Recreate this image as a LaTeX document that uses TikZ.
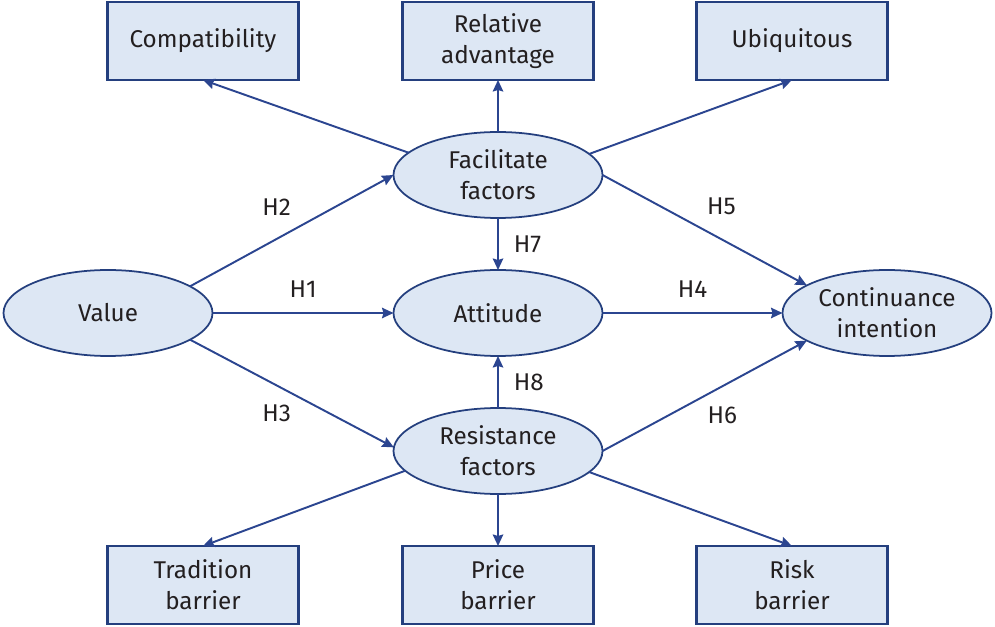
\documentclass[tikz,border=0pt]{standalone}
\usepackage{fontspec}
\setmainfont{Fira Sans}
\usetikzlibrary{arrows.meta,
positioning,
shapes.geometric}

\definecolor{boxfill}{HTML}{DDE7F4}
\definecolor{boxline}{HTML}{243F7E}
\definecolor{arrowline}{HTML}{2B4590}
\definecolor{txt}{HTML}{231F20}

\tikzset{
	factor/.style={ellipse, draw=boxline, fill=boxfill, line width=1pt, inner sep=0pt, outer sep=0pt,
		minimum width=4.18cm, minimum height=1.72cm, align=center, text=txt},
	item/.style={rectangle, draw=boxline, fill=boxfill, line width=1.4pt, inner sep=0pt, outer sep=0pt,
		minimum width=3.82cm, minimum height=1.56cm, align=center, text=txt},
	hyp/.style={inner sep=0pt, text=txt},
	every node/.append style={font=\fontsize{13.8}{17.5}\selectfont}
}

\begin{document}
\begin{tikzpicture}[
				-{Stealth[length=2.3mm, width=2.1mm, inset=0.3mm]},
				draw=arrowline, line width=1.1pt,
				node distance=1.04cm
			]
				\useasboundingbox (0,0) rectangle (19.9,-12.54);
				% middle row
				\node [factor] (att) at (9.96,-6.26) {Attitude};
				\node [factor, left=3.62cm of att] (value) {Value};
				\node [factor, right=3.6cm of att] (cont) {Continuance\\intention};
				\node [factor, above=of att] (fac) {Facilitate\\factors};
				\node [factor, below=of att] (res) {Resistance\\factors};
				% top row
				\node [item, above=of fac] (rel) {Relative\\advantage};
				\node [item, left=2.08cm of rel] (compat) {Compatibility};
				\node [item, right=2.06cm of rel] (ubiq) {Ubiquitous};
				% bottom row
				\node [item, below=of res] (price) {Price\\barrier};
				\node [item, left=2.08cm of price] (trad) {Tradition\\barrier};
				\node [item, right=2.06cm of price] (risk) {Risk\\barrier};
				\path[]
					(value.18.7) edge node [hyp, above left=0.29cm and 0cm] {H2} (fac.west)
					(value.east) edge node [hyp, above=0.3cm] {H1} (att.west)
					(value.-18.7) edge node [hyp, below left=0.21cm and 0cm] {H3} (res.178)
					(fac.south) edge node [hyp, right=0.3cm] {H7} (att.north)
					(res.north) edge node [hyp, right=0.3cm] {H8} (att.south)
					(fac.east) edge node [hyp, above right=0.29cm and 0.03cm] {H5} (cont.161)
					(att.east) edge node [hyp, above=0.3cm] {H4} (cont.west)
					(res.east) edge node [hyp, below right=0.21cm and 0.04cm] {H6} (cont.199)
					(fac.166.6) edge (compat.south)
					(fac.north) edge (rel.south)
					(fac.13.3) edge (ubiq.south)
					(res.192.9) edge (trad.north)
					(res.south) edge (price.north)
					(res.-13) edge (risk.north);
			\end{tikzpicture}
\end{document}
